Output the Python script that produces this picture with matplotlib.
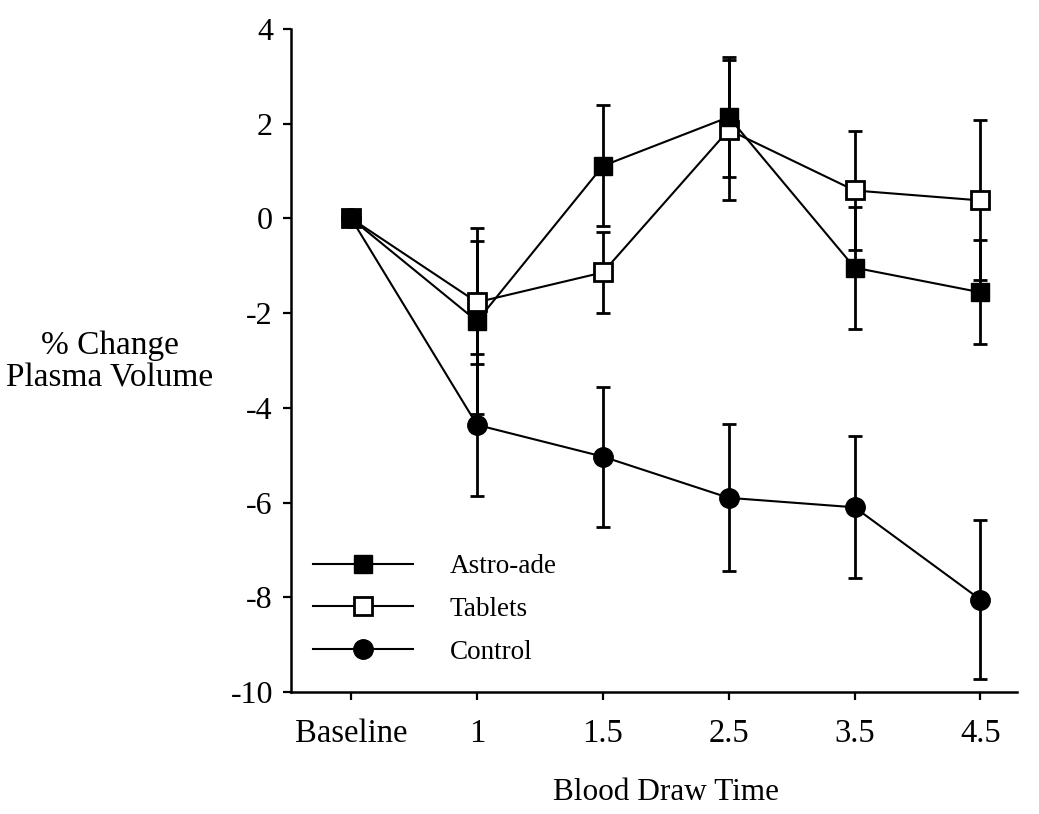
import numpy as np
import matplotlib
matplotlib.use('Agg')
import matplotlib.pyplot as plt
from matplotlib.lines import Line2D

plt.rcParams['font.family'] = ['Liberation Serif', 'DejaVu Serif']

# Dati
x_labels = ['Baseline', '1', '1.5', '2.5', '3.5', '4.5']
astro = [0, -2.17, 1.11, 2.14, -1.04, -1.56]
astro_err = [0, 1.97, 1.28, 1.27, 1.29, 1.10]
tablets = [0, -1.77, -1.14, 1.87, 0.59, 0.38]
tablets_err = [0, 1.30, 0.85, 1.48, 1.25, 1.69]
control = [0, -4.36, -5.03, -5.90, -6.10, -8.05]
control_err = [0, 1.50, 1.48, 1.55, 1.50, 1.68]
y_ticks = [4, 2, 0, -2, -4, -6, -8, -10]

x = np.arange(len(x_labels))

fig = plt.figure(figsize=(10.39, 8.14), dpi=100)
ax = fig.add_axes([291/1039, 1 - 692/814, (1017 - 291)/1039, (692 - 29)/814])

err_kw = dict(color='k', elinewidth=2, capsize=5, capthick=2, linewidth=1.5)
ax.errorbar(x, control, yerr=control_err, marker='o', markersize=14,
            markerfacecolor='k', markeredgecolor='k', label='Control', **err_kw)
ax.errorbar(x, tablets, yerr=tablets_err, marker='s', markersize=13,
            markerfacecolor='white', markeredgecolor='k', markeredgewidth=2,
            label='Tablets', **err_kw)
ax.errorbar(x, astro, yerr=astro_err, marker='s', markersize=13.5,
            markerfacecolor='k', markeredgecolor='k', label='Astro-ade', **err_kw)

ax.set_xlim(-0.478, 5.29)
ax.set_ylim(-10, 4)
ax.set_xticks(x)
ax.set_xticklabels(x_labels, fontsize=23.5)
ax.set_yticks(y_ticks)
ax.set_yticklabels([str(v) for v in y_ticks], fontsize=23)

for s in ['top', 'right']:
    ax.spines[s].set_visible(False)
for s in ['left', 'bottom']:
    ax.spines[s].set_linewidth(1.8)
ax.tick_params(axis='both', direction='out', length=6, width=1.6)
ax.tick_params(axis='y', pad=7)
ax.tick_params(axis='x', pad=13)

# Legenda senza barre d'errore
handles = [
    Line2D([], [], color='k', lw=1.5, marker='s', markersize=13.5, markerfacecolor='k'),
    Line2D([], [], color='k', lw=1.5, marker='s', markersize=13, markerfacecolor='white',
           markeredgewidth=2),
    Line2D([], [], color='k', lw=1.5, marker='o', markersize=14, markerfacecolor='k'),
]
fig.legend(handles, ['Astro-ade', 'Tablets', 'Control'], loc='upper left',
           bbox_to_anchor=(313/1039, 1 - 554/814), frameon=False, fontsize=19.5,
           handlelength=3.7, handletextpad=1.35, labelspacing=0.66,
           borderpad=0, borderaxespad=0)

fig.text(110/1039, 1 - 362/814, '% Change\nPlasma Volume', ha='center', va='center',
         fontsize=24, linespacing=1.05)
fig.text(666/1039, 1 - 792/814, 'Blood Draw Time', ha='center', va='center', fontsize=22.5)

plt.savefig('out.png', dpi=100)
